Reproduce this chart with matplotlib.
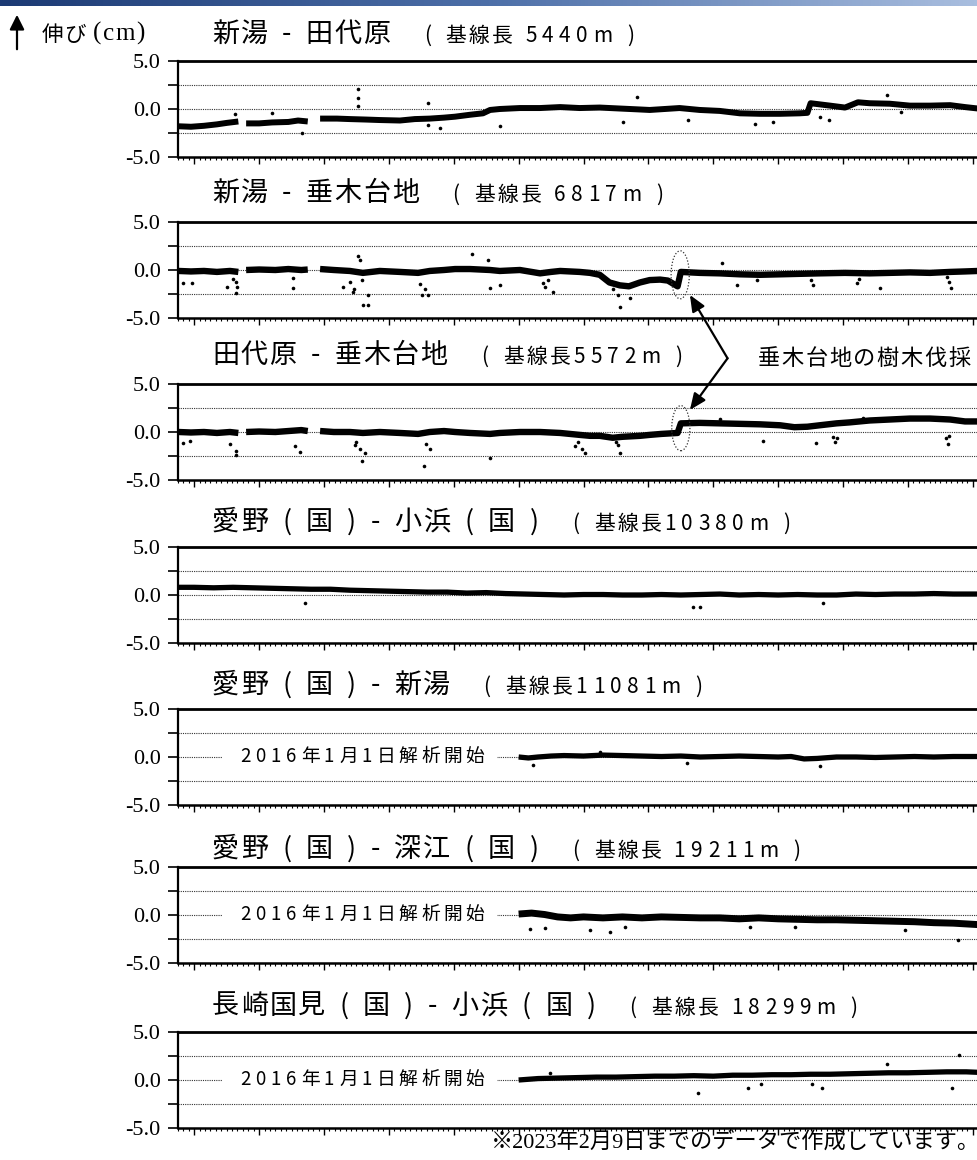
import numpy as np
import matplotlib
matplotlib.use("Agg")
import matplotlib.pyplot as plt
from matplotlib.patches import Ellipse, Rectangle, FancyArrowPatch
from matplotlib.ticker import MultipleLocator, FixedLocator
from matplotlib.colors import LinearSegmentedColormap

nan = np.nan

# ---------------- baseline length changes (cm), time in decimal years ----------------
titles_main = ["新湯 - 田代原", "新湯 - 垂木台地", "田代原 - 垂木台地",
               "愛野 ( 国 ) - 小浜 ( 国 )", "愛野 ( 国 ) - 新湯",
               "愛野 ( 国 ) - 深江 ( 国 )", "長崎国見 ( 国 ) - 小浜 ( 国 )"]
titles_sub = ["( 基線長 5440m )", "( 基線長 6817m )", "( 基線長5572m )",
              "( 基線長10380m )", "( 基線長11081m )", "( 基線長 19211m )",
              "( 基線長 18299m )"]

t1 = [2010.76, 2010.95, 2011.15, 2011.35, 2011.50, 2011.68, 2011.75, 2011.80, 2012.00, 2012.20,
      2012.45, 2012.60, 2012.75, 2012.85, 2012.94, 2013.20, 2013.40, 2013.65, 2013.86, 2014.17,
      2014.40, 2014.63, 2014.85, 2015.02, 2015.25, 2015.45, 2015.56, 2015.71, 2016.02, 2016.33,
      2016.64, 2016.94, 2017.25, 2017.56, 2017.87, 2018.02, 2018.25, 2018.48, 2018.79, 2019.10,
      2019.41, 2019.72, 2020.03, 2020.33, 2020.45, 2020.50, 2020.80, 2021.03, 2021.23, 2021.41,
      2021.72, 2022.03, 2022.34, 2022.65, 2022.88, 2023.08]
v1 = [-1.8, -1.85, -1.75, -1.6, -1.45, -1.3, nan, -1.5, -1.5, -1.4,
      -1.35, -1.2, -1.3, nan, -1.0, -1.0, -1.05, -1.1, -1.15, -1.2,
      -1.05, -1.0, -0.9, -0.8, -0.6, -0.45, -0.1, 0.0, 0.1, 0.1,
      0.2, 0.1, 0.15, 0.05, -0.05, -0.1, 0.0, 0.1, -0.1, -0.2,
      -0.45, -0.5, -0.5, -0.45, -0.4, 0.6, 0.35, 0.15, 0.7, 0.6,
      0.55, 0.35, 0.35, 0.4, 0.2, 0.05]
o1_t = [2011.63, 2012.20, 2012.66, 2013.52, 2013.52, 2013.53, 2014.60, 2014.60, 2014.79, 2015.71,
        2017.61, 2017.82, 2018.61, 2019.64, 2019.92, 2020.64, 2020.79, 2021.67, 2021.90]
o1_v = [-0.5, -0.4, -2.5, 2.1, 1.1, 0.3, 0.6, -1.7, -2.0, -1.8,
        -1.4, 1.2, -1.1, -1.6, -1.4, -0.8, -1.1, 1.5, -0.3]

t2 = [2010.76, 2010.95, 2011.15, 2011.35, 2011.55, 2011.68, 2011.75, 2011.80, 2012.00, 2012.25,
      2012.45, 2012.65, 2012.75, 2012.85, 2012.94, 2013.15, 2013.40, 2013.60, 2013.86, 2014.17,
      2014.45, 2014.63, 2014.85, 2015.02, 2015.25, 2015.56, 2015.71, 2016.02, 2016.20, 2016.33,
      2016.50, 2016.64, 2016.94, 2017.10, 2017.25, 2017.40, 2017.56, 2017.70, 2017.87, 2018.02,
      2018.18, 2018.30, 2018.45, 2018.50, 2018.79, 2019.10, 2019.41, 2019.72, 2020.03, 2020.33,
      2020.64, 2021.03, 2021.41, 2021.72, 2022.03, 2022.34, 2022.65, 2022.88, 2023.08]
v2 = [-0.1, -0.15, -0.1, -0.2, -0.1, -0.2, nan, 0.0, 0.05, 0.0,
      0.1, 0.0, 0.05, nan, 0.1, 0.0, -0.1, -0.3, -0.1, -0.2,
      -0.3, -0.1, 0.0, 0.1, 0.1, 0.0, -0.1, 0.0, -0.2, -0.35,
      -0.2, -0.1, -0.2, -0.3, -0.5, -1.3, -1.6, -1.7, -1.3, -1.05,
      -1.0, -1.1, -1.7, -0.2, -0.3, -0.35, -0.45, -0.5, -0.45, -0.4,
      -0.35, -0.3, -0.35, -0.3, -0.25, -0.3, -0.2, -0.15, -0.1]
o2_t = [2010.83, 2010.96, 2011.50, 2011.60, 2011.64, 2011.64, 2011.66, 2012.52, 2012.52, 2013.29,
        2013.40, 2013.44, 2013.47, 2013.52, 2013.55, 2013.58, 2013.60, 2013.68, 2013.68, 2014.48,
        2014.51, 2014.55, 2014.60, 2015.28, 2015.53, 2015.56, 2015.71, 2016.37, 2016.40, 2016.45,
        2016.53, 2017.45, 2017.53, 2017.56, 2017.71, 2019.13, 2019.36, 2019.67, 2020.50, 2020.53,
        2021.21, 2021.25, 2021.57, 2022.60, 2022.63, 2022.67]
o2_v = [-1.4, -1.4, -1.8, -0.9, -1.3, -2.4, -1.8, -0.8, -1.9, -1.8,
        -1.2, -2.3, -2.0, 1.5, 1.0, -1.0, -3.6, -3.6, -2.6, -1.5,
        -2.6, -2.0, -2.6, 1.7, 1.0, -1.9, -1.6, -1.4, -1.8, -1.0,
        -2.3, -2.0, -2.6, -3.9, -2.9, 0.7, -1.6, -1.0, -1.0, -1.6,
        -1.4, -0.9, -1.9, -0.7, -1.3, -1.9]

t3 = [2010.76, 2010.95, 2011.15, 2011.35, 2011.55, 2011.68, 2011.75, 2011.80, 2012.00, 2012.25,
      2012.45, 2012.65, 2012.75, 2012.85, 2012.94, 2013.15, 2013.40, 2013.60, 2013.86, 2014.17,
      2014.45, 2014.63, 2014.85, 2015.02, 2015.25, 2015.56, 2015.71, 2016.02, 2016.33, 2016.64,
      2016.94, 2017.10, 2017.25, 2017.45, 2017.60, 2017.87, 2018.02, 2018.20, 2018.45, 2018.50,
      2018.79, 2019.10, 2019.41, 2019.72, 2020.03, 2020.25, 2020.45, 2020.64, 2020.90, 2021.10,
      2021.41, 2021.72, 2022.03, 2022.34, 2022.65, 2022.88, 2023.08]
v3 = [0.0, -0.05, 0.0, -0.1, 0.0, -0.1, nan, 0.0, 0.05, 0.0,
      0.1, 0.2, 0.1, nan, 0.1, 0.0, 0.0, -0.1, 0.0, -0.1,
      -0.2, 0.0, 0.1, 0.0, -0.1, -0.2, -0.1, 0.0, 0.0, -0.1,
      -0.3, -0.4, -0.4, -0.6, -0.5, -0.4, -0.3, -0.2, -0.1, 0.9,
      0.95, 0.9, 0.85, 0.8, 0.7, 0.5, 0.55, 0.7, 0.9, 1.0,
      1.2, 1.3, 1.4, 1.4, 1.3, 1.1, 1.1]
o3_t = [2010.83, 2010.94, 2011.55, 2011.64, 2011.65, 2012.55, 2012.63, 2013.48, 2013.50, 2013.55,
        2013.58, 2013.63, 2014.54, 2014.57, 2014.63, 2015.56, 2016.87, 2016.92, 2016.98, 2017.02,
        2017.50, 2017.53, 2017.56, 2019.10, 2019.76, 2020.59, 2020.84, 2020.87, 2020.90, 2021.30,
        2022.58, 2022.61, 2022.63]
o3_v = [-1.1, -0.9, -1.3, -2.0, -2.4, -1.5, -2.1, -1.4, -1.0, -1.8,
        -3.0, -2.2, -3.5, -1.2, -1.8, -2.7, -1.5, -1.0, -1.8, -2.2,
        -1.0, -1.4, -2.2, 1.4, -0.9, -1.1, -0.5, -1.0, -0.6, 1.5,
        -0.6, -1.2, -0.4]

t4 = [2010.76, 2011.00, 2011.30, 2011.60, 2011.90, 2012.20, 2012.50, 2012.80, 2013.10, 2013.40,
      2013.70, 2014.00, 2014.30, 2014.60, 2014.90, 2015.20, 2015.50, 2015.80, 2016.10, 2016.40,
      2016.70, 2017.00, 2017.30, 2017.60, 2017.90, 2018.20, 2018.50, 2018.80, 2019.10, 2019.40,
      2019.70, 2020.00, 2020.30, 2020.60, 2020.90, 2021.20, 2021.50, 2021.80, 2022.10, 2022.40,
      2022.70, 2023.08]
v4 = [0.8, 0.8, 0.75, 0.8, 0.75, 0.7, 0.65, 0.6, 0.6, 0.5,
      0.45, 0.4, 0.35, 0.3, 0.3, 0.2, 0.25, 0.15, 0.1, 0.05,
      0.0, 0.05, 0.05, 0.0, 0.0, 0.05, 0.0, 0.05, 0.1, 0.0,
      0.05, 0.0, 0.05, 0.0, 0.0, 0.1, 0.05, 0.1, 0.1, 0.15,
      0.1, 0.1]
o4_t = [2012.71, 2018.68, 2018.79, 2020.69]
o4_v = [-0.8, -1.3, -1.3, -0.8]

t5 = [2016.00, 2016.15, 2016.30, 2016.50, 2016.70, 2017.00, 2017.30, 2017.60, 2017.90, 2018.20,
      2018.50, 2018.80, 2019.10, 2019.40, 2019.70, 2020.00, 2020.20, 2020.40, 2020.60, 2020.90,
      2021.20, 2021.50, 2021.80, 2022.10, 2022.40, 2022.70, 2023.08]
v5 = [0.0, -0.1, 0.0, 0.1, 0.15, 0.1, 0.2, 0.15, 0.1, 0.05,
      0.1, 0.0, 0.05, 0.1, 0.05, 0.0, 0.05, -0.2, -0.15, 0.0,
      0.0, -0.05, 0.0, 0.05, 0.0, 0.05, 0.05]
o5_t = [2016.22, 2017.25, 2018.59, 2020.64]
o5_v = [-0.8, 0.5, -0.6, -0.9]

t6 = [2016.00, 2016.20, 2016.40, 2016.60, 2016.80, 2017.00, 2017.30, 2017.60, 2017.90, 2018.20,
      2018.50, 2018.80, 2019.10, 2019.40, 2019.70, 2020.00, 2020.30, 2020.60, 2020.90, 2021.20,
      2021.50, 2021.80, 2022.10, 2022.40, 2022.70, 2023.08]
v6 = [0.1, 0.2, 0.05, -0.2, -0.3, -0.2, -0.3, -0.2, -0.3, -0.2,
      -0.25, -0.3, -0.3, -0.4, -0.3, -0.4, -0.45, -0.5, -0.5, -0.55,
      -0.6, -0.65, -0.7, -0.8, -0.85, -1.0]
o6_t = [2016.17, 2016.40, 2017.10, 2017.41, 2017.64, 2019.57, 2020.26, 2021.95, 2022.77]
o6_v = [-1.5, -1.4, -1.6, -1.8, -1.3, -1.2, -1.2, -1.6, -2.6]

t7 = [2016.00, 2016.30, 2016.60, 2016.90, 2017.20, 2017.50, 2017.80, 2018.10, 2018.40, 2018.70,
      2019.00, 2019.30, 2019.60, 2019.90, 2020.20, 2020.50, 2020.80, 2021.10, 2021.40, 2021.70,
      2022.00, 2022.30, 2022.60, 2022.90, 2023.08]
v7 = [0.0, 0.15, 0.2, 0.25, 0.3, 0.3, 0.35, 0.4, 0.4, 0.45,
      0.4, 0.5, 0.5, 0.55, 0.55, 0.6, 0.6, 0.65, 0.7, 0.75,
      0.75, 0.8, 0.85, 0.85, 0.8]
o7_t = [2016.48, 2018.76, 2019.54, 2019.74, 2020.52, 2020.67, 2021.67, 2022.68, 2022.79]
o7_v = [0.7, -1.4, -0.8, -0.4, -0.4, -0.8, 1.7, -0.8, 2.6]

series = [(t1, v1, o1_t, o1_v), (t2, v2, o2_t, o2_v), (t3, v3, o3_t, o3_v),
          (t4, v4, o4_t, o4_v), (t5, v5, o5_t, o5_v), (t6, v6, o6_t, o6_v),
          (t7, v7, o7_t, o7_v)]
late_start = [False, False, False, False, True, True, True]
start_note = "2016年1月1日解析開始"
cut_note = "垂木台地の樹木伐採"
footnote = "※2023年2月9日までのデータで作成しています。"

# ---------------- layout (pixels) ----------------
W, H, DPI = 978, 1160, 100
JP = "Noto Sans CJK JP"
SERIF = "Liberation Serif"
panel_tops = [61, 222, 384, 547, 709, 867, 1032]
panel_h = 96
title_cy = [31, 190, 352, 519, 682, 846, 1003]
band_lw = [4.3, 4.6, 4.6, 3.8, 3.8, 5.0, 3.8]
ax_left, ax_right = 178, 978

fig = plt.figure(figsize=(W / DPI, H / DPI), dpi=DPI)
fig.patch.set_facecolor("white")
renderer = fig.canvas.get_renderer()


def tracked(x, y, s, size, track, family=JP, space=0.33, track_ascii=None):
    """Draw s char by char from pixel x on baseline pixel y (from top)."""
    if track_ascii is None:
        track_ascii = track
    for ch in s:
        if ch == " ":
            x += size * DPI / 72 * space + track
            continue
        t = fig.text(x / W, 1 - y / H, ch, fontsize=size, family=family,
                     va="baseline", ha="left", color="black")
        x += t.get_window_extent(renderer).width
        x += track_ascii if ch.isascii() else track
    return x


# header gradient bar
bar = fig.add_axes([0, 1 - 6 / H, 1, 6 / H])
cmap = LinearSegmentedColormap.from_list("hdr", ["#1c3a74", "#4d6fa8", "#a9bedf"])
bar.imshow(np.linspace(0, 1, 256)[None, :], aspect="auto", cmap=cmap)
bar.axis("off")

axes = []
for i, top in enumerate(panel_tops):
    ax = fig.add_axes([ax_left / W, 1 - (top + panel_h) / H,
                       (ax_right - ax_left) / W, panel_h / H])
    axes.append(ax)
    ax.set_xlim(2010.75, 2023.08)
    ax.set_ylim(-5, 5)
    ax.set_yticks([-5, 0, 5])
    ax.set_yticklabels(["-5.0", "0.0", "5.0"], fontfamily=SERIF, fontsize=16)
    ax.yaxis.set_minor_locator(FixedLocator([-2.5, 2.5]))
    ax.tick_params(axis="y", which="both", direction="out", length=7.5, width=1.2, pad=5)
    ax.set_xticks(range(2011, 2024))
    ax.set_xticklabels([])
    ax.xaxis.set_minor_locator(MultipleLocator(1 / 12))
    ax.tick_params(axis="x", which="major", direction="out", length=5, width=1.0)
    ax.tick_params(axis="x", which="minor", direction="out", length=2.5, width=0.8)
    ax.spines["right"].set_visible(False)
    ax.spines["top"].set_linewidth(2.0)
    ax.spines["bottom"].set_linewidth(1.8)
    ax.spines["left"].set_linewidth(1.6)
    for yy in (-2.5, 0.0, 2.5):
        ax.axhline(yy, color="#333333", lw=0.8, ls=(0, (1, 1)), zorder=1)

    t, v, ot, ov = series[i]
    ax.plot(t, v, color="black", lw=band_lw[i], solid_joinstyle="round",
            solid_capstyle="butt", zorder=3)
    ax.plot(ot, ov, "o", ms=2.6, mew=0, color="black", zorder=3)

    # titles
    base = title_cy[i] + 11
    xe = tracked(212, base, titles_main[i], 19.5, 1.5, space=0.42)
    tracked(xe + 32, base, titles_sub[i], 15, 2.5, track_ascii=5.5)

    if late_start[i]:
        ax.add_patch(Rectangle((2011.43, -0.6), 4.24, 1.2, fc="white", ec="none", zorder=2))
        tracked(240, top + 48 + 5, start_note, 13.5, 3.5, track_ascii=5)

# tree-cutting markers
ax2, ax3 = axes[1], axes[2]
ax2.add_patch(Ellipse((2018.49, -0.5), 0.28, 5.0, fill=False, ec="#333333", lw=0.9,
                      ls=(0, (1, 1.5)), zorder=4, clip_on=False))
ax3.add_patch(Ellipse((2018.50, 0.4), 0.28, 4.7, fill=False, ec="#333333", lw=0.9,
                      ls=(0, (1, 1.5)), zorder=4, clip_on=False))
vertex = (2019.22, -9.2)
arrow_kw = dict(arrowstyle="-|>,head_length=0.7,head_width=0.3", lw=1.6,
                color="black", mutation_scale=14, shrinkA=0, shrinkB=0)
ax2.annotate("", xy=(2018.64, -2.6), xytext=vertex, arrowprops=arrow_kw,
             annotation_clip=False)
ax3.annotate("", xy=(2018.64, 2.3), xytext=vertex, textcoords=ax2.transData,
             arrowprops=arrow_kw, annotation_clip=False)
tracked(758, 365, cut_note, 16, 1.5)

# unit label with upward arrow
fig.add_artist(FancyArrowPatch((17 / W, 1 - 52 / H), (17 / W, 1 - 12 / H),
                               transform=fig.transFigure,
                               arrowstyle="-|>,head_length=0.8,head_width=0.4",
                               mutation_scale=11, lw=1.6, color="black"))
xe = tracked(42, 41, "伸び", 15.5, 1)
tracked(xe + 6, 40, "(cm)", 18, 1.5, family=SERIF)

fig.text(980 / W, 1 - 1143 / H, footnote, ha="right", va="center", fontsize=16,
         family=[SERIF, JP])

fig.savefig("out.png", dpi=DPI)
